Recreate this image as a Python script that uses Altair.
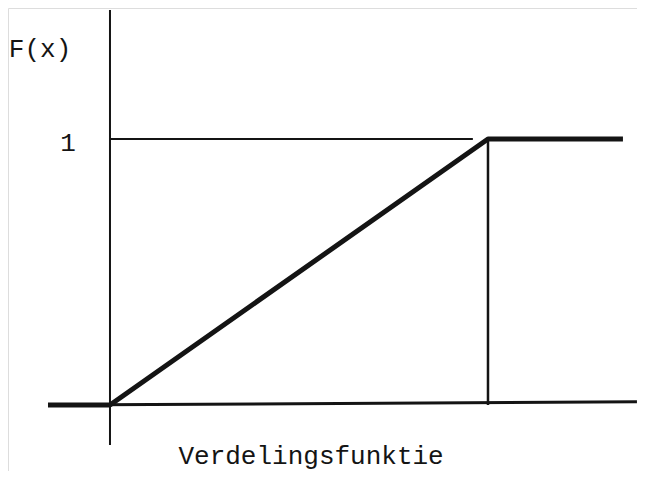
import altair as alt
import pandas as pd

# Distribution function F(x) of a uniform distribution on [0, 1]
cdf_x = [-0.164, 0.0, 1.0, 1.357]
cdf_y = [0.0, 0.0, 1.0, 1.0]

# horizontal axis
haxis_x = [-0.164]
haxis_x2 = [1.394]
haxis_y = [0.0]
haxis_y2 = [0.012]

# vertical axis
vaxis_x = [0.0]
vaxis_y = [-0.15]
vaxis_y2 = [1.485]

# guide line at F = 1
guide_x = [0.0]
guide_x2 = [0.96]
guide_y = [1.0]

# vertical guide at x = 1
vguide_x = [1.0]
vguide_y = [0.0]
vguide_y2 = [1.0]

label_text = ["F(x)", "1", "Verdelingsfunktie"]
label_x = [-0.185, -0.111, 0.532]
label_y = [1.338, 0.985, -0.19]

xs = alt.Scale(domain=[-0.2698, 1.3942], nice=False, zero=False)
ys = alt.Scale(domain=[-0.2481, 1.4925], nice=False, zero=False)
ink = "#141414"

cdf = pd.DataFrame({"x": cdf_x, "y": cdf_y, "o": range(len(cdf_x))})
haxis = pd.DataFrame({"x": haxis_x, "x2": haxis_x2, "y": haxis_y, "y2": haxis_y2})
vaxis = pd.DataFrame({"x": vaxis_x, "y": vaxis_y, "y2": vaxis_y2})
guide = pd.DataFrame({"x": guide_x, "x2": guide_x2, "y": guide_y})
vguide = pd.DataFrame({"x": vguide_x, "y": vguide_y, "y2": vguide_y2})
labels = pd.DataFrame({"t": label_text, "x": label_x, "y": label_y})

X = lambda f: alt.X(f + ":Q", scale=xs, axis=None)
Y = lambda f: alt.Y(f + ":Q", scale=ys, axis=None)

l_haxis = alt.Chart(haxis).mark_rule(color=ink, strokeWidth=3).encode(
    x=X("x"), x2="x2:Q", y=Y("y"), y2="y2:Q")
l_vaxis = alt.Chart(vaxis).mark_rule(color=ink, strokeWidth=2).encode(
    x=X("x"), y=Y("y"), y2="y2:Q")
l_guide = alt.Chart(guide).mark_rule(color=ink, strokeWidth=2).encode(
    x=X("x"), x2="x2:Q", y=Y("y"))
l_vguide = alt.Chart(vguide).mark_rule(color=ink, strokeWidth=2.5).encode(
    x=X("x"), y=Y("y"), y2="y2:Q")
l_cdf = alt.Chart(cdf).mark_line(color=ink, strokeWidth=5, strokeJoin="round").encode(
    x=X("x"), y=Y("y"), order="o:Q")
l_text = alt.Chart(labels).mark_text(
    font="Liberation Mono", fontSize=26, color=ink, align="center", baseline="middle"
).encode(x=X("x"), y=Y("y"), text="t:N")

chart = alt.layer(l_haxis, l_vaxis, l_guide, l_vguide, l_cdf, l_text).properties(
    width=629, height=463, padding=0,
    autosize=alt.AutoSizeParams(type="none"),
).configure_view(stroke=None).configure(background="white")

chart.save("out.html", embed_options={"renderer": "svg", "actions": False})
